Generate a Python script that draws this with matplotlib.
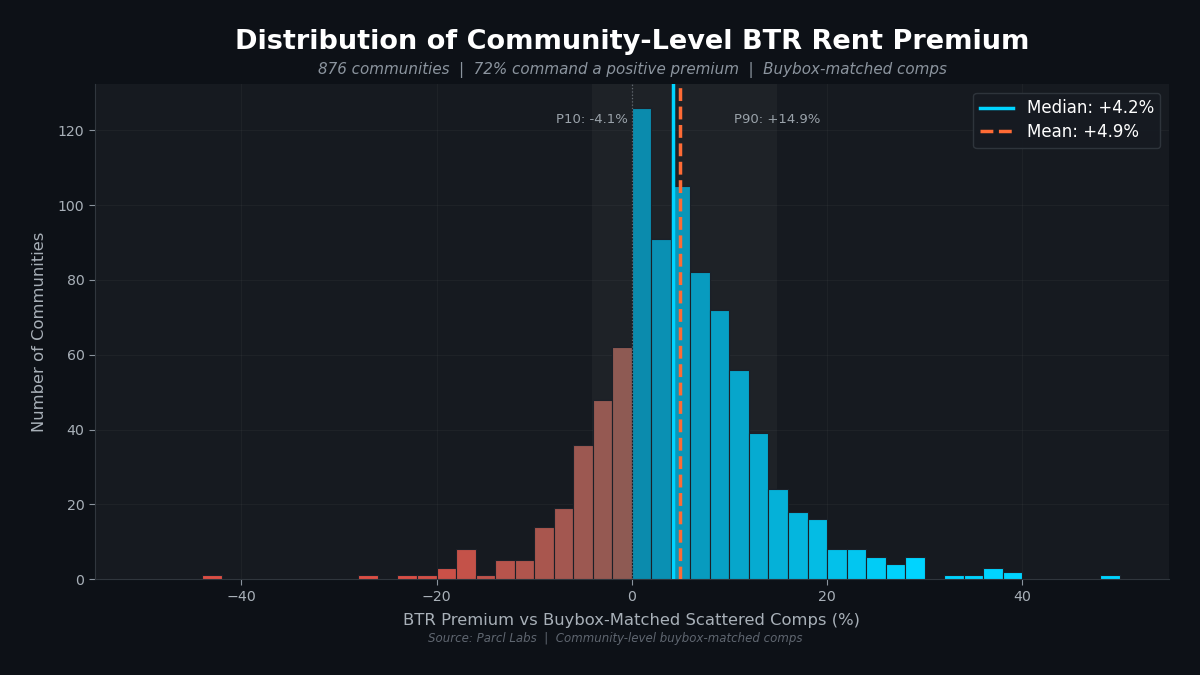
import matplotlib
matplotlib.use("Agg")
import matplotlib.pyplot as plt
import numpy as np
from matplotlib.colors import to_rgb

plt.rcParams["font.family"] = ["DejaVu Sans"]

# ---- data ----
bin_left = [-44, -42, -40, -38, -36, -34, -32, -30, -28, -26, -24, -22, -20, -18, -16, -14,
            -12, -10, -8, -6, -4, -2, 0, 2, 4, 6, 8, 10, 12, 14, 16, 18, 20, 22, 24, 26,
            28, 30, 32, 34, 36, 38, 40, 42, 44, 46, 48]
counts = [1, 0, 0, 0, 0, 0, 0, 0, 1, 0, 1, 1, 3, 8, 1, 5,
          5, 14, 19, 36, 48, 62, 126, 91, 105, 82, 72, 56, 39, 24, 18, 16, 8, 8, 6, 4,
          6, 0, 1, 1, 3, 2, 0, 0, 0, 0, 1]
bin_width = 2
median_val = 4.2
mean_val = 4.9
p10_val = -4.1
p90_val = 14.9
n_communities = 876
pct_positive = 72

# ---- style ----
FIG_BG = "#0d1117"
AX_BG = "#161a20"
TXT = "#a8b0b8"
POS_NEAR, POS_FAR = "#0b88aa", "#00d4ff"
NEG_NEAR, NEG_FAR = "#8b5a54", "#dc4f45"
MEAN_C = "#ff6b35"

fig = plt.figure(figsize=(12, 6.75), dpi=100, facecolor=FIG_BG)
ax = fig.add_axes([0.079, 0.142, 0.895, 0.733])
ax.set_facecolor(AX_BG)

def mix(c1, c2, t):
    a = np.array(to_rgb(c1)); b = np.array(to_rgb(c2))
    return tuple(a + (b - a) * t)

centers = np.array(bin_left) + bin_width / 2
colors = []
for c in centers:
    if c > 0:
        colors.append(mix(POS_NEAR, POS_FAR, min(c / 28.0, 1.0)))
    else:
        colors.append(mix(NEG_NEAR, NEG_FAR, min(-c / 24.0, 1.0)))

ax.bar(bin_left, counts, width=bin_width, align="edge", color=colors,
       edgecolor="#1b2028", linewidth=0.8, zorder=3)

ymax = max(counts) * 1.05
ax.set_ylim(0, ymax)
ax.set_xlim(-55, 55)

# P10-P90 band
ax.axvspan(p10_val, p90_val, color="#ffffff", alpha=0.035, zorder=1, lw=0)
ax.axvline(0, color="#8b949e", linestyle=":", linewidth=0.9, alpha=0.6, zorder=4)

ax.text(p10_val, ymax * 0.93, f"P10: {p10_val:.1f}%",
        ha="center", va="center", color="#9aa2aa", fontsize=9.5, zorder=6)
ax.text(p90_val, ymax * 0.93, f"P90: {p90_val:+.1f}%",
        ha="center", va="center", color="#9aa2aa", fontsize=9.5, zorder=6)

# median & mean
ax.axvline(median_val, color=POS_FAR, linewidth=2.5, zorder=6,
           label=f"Median: {median_val:+.1f}%")
ax.axvline(mean_val, color=MEAN_C, linewidth=2.5, linestyle="--", zorder=6,
           label=f"Mean: {mean_val:+.1f}%")

# grid & spines
ax.grid(True, color="#ffffff", alpha=0.035, linewidth=0.8, zorder=0)
ax.set_axisbelow(True)
for s in ["top", "right"]:
    ax.spines[s].set_visible(False)
for s in ["left", "bottom"]:
    ax.spines[s].set_color("#30363d")
    ax.spines[s].set_linewidth(0.8)
ax.tick_params(colors=TXT, labelsize=10.2, length=4, width=0.8)
ax.tick_params(axis="both", color="#8b949e")
ax.set_yticks([0, 20, 40, 60, 80, 100, 120])
ax.set_xticks([-40, -20, 0, 20, 40])

ax.set_xlabel("BTR Premium vs Buybox-Matched Scattered Comps (%)", color=TXT,
              fontsize=11.8, labelpad=7)
ax.set_ylabel("Number of Communities", color=TXT, fontsize=11.8, labelpad=8)

leg = ax.legend(loc="upper right", fontsize=12, facecolor="#161b22",
                edgecolor="#30363d", framealpha=0.95, labelcolor="white",
                handlelength=2.0, borderpad=0.4, labelspacing=0.35)

fig.text(0.527, 0.938, "Distribution of Community-Level BTR Rent Premium",
         ha="center", va="center", color="white", fontsize=19.5, fontweight="bold")
fig.text(0.527, 0.896,
         f"{n_communities} communities  |  {pct_positive}% command a positive premium  |  Buybox-matched comps",
         ha="center", va="center", color="#8b949e", fontsize=10.9, style="italic")
fig.text(0.513, 0.054, "Source: Parcl Labs  |  Community-level buybox-matched comps",
         ha="center", va="center", color="#5f6670", fontsize=8.5, style="italic")

fig.savefig("out.png", dpi=100, facecolor=FIG_BG)
